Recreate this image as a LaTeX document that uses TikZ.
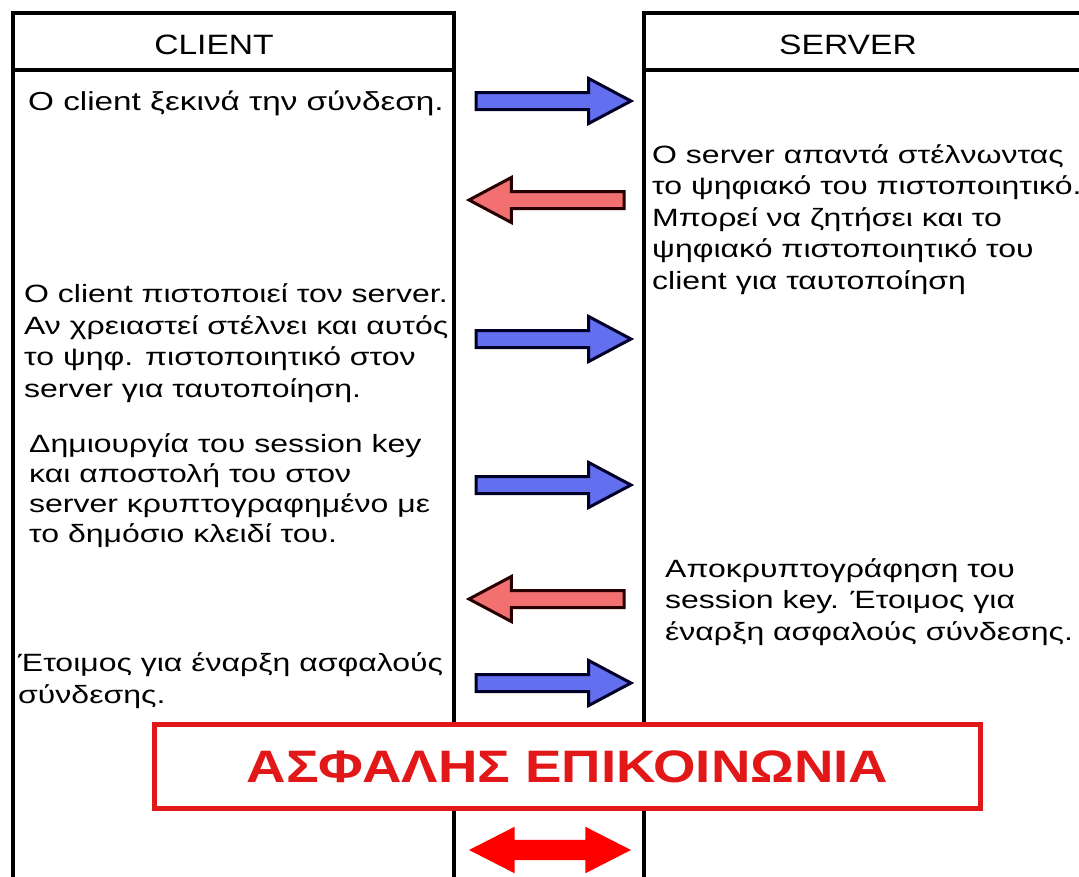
\documentclass[tikz,border=0pt]{standalone}
\usepackage{fontspec}
\setmainfont{Liberation Sans}[FakeStretch=1.2]
\newfontfamily\msgfont{Liberation Sans}[FakeStretch=1.28]
\usetikzlibrary{shapes.arrows}
\definecolor{msgblue}{RGB}{98,112,240}
\definecolor{msgred}{RGB}{242,112,112}
\definecolor{secred}{RGB}{226,24,24}
\begin{document}
\begin{tikzpicture}[x=1pt,y=-1pt,
	lifeline/.style={line width=4pt},
	head/.style={inner sep=0pt,font=\fontsize{28}{34}\selectfont},
	msg/.style={anchor=base west,align=left,inner sep=0pt,font=\msgfont\fontsize{25}{31.5}\selectfont},
	flow/.style={single arrow,shape border rotate=#1,anchor=tail,draw,line width=3pt,
		inner xsep=0pt,inner ysep=7pt,outer sep=0pt,minimum height=155pt,
		single arrow head extend=14pt,single arrow tip angle=56},
	fwd/.style={flow=0,fill=msgblue,draw=black!85!blue},
	back/.style={flow=180,fill=msgred,draw=black!85!red}]
	\useasboundingbox (0,0) rectangle (1079,876);
	\clip (0,0) rectangle (1079,876);
	% the two sides
	\draw[lifeline] (13,13) rectangle (454,900);
	\draw[lifeline] (13,70) -- (454,70);
	\draw[lifeline] (644,13) rectangle (1100,900);
	\draw[lifeline] (644,70) -- (1100,70);
	\node[head] (client) at (214,44.5) {CLIENT};
	\node[head] (server) at (848,44.5) {SERVER};
	% texts (base = last line)
	\node[msg,font=\msgfont\fontsize{26}{31.5}\selectfont] (c1) at (28,110) {O client ξεκινά την σύνδεση.};
	\node[msg] (s1) at (652,289) {O server απαντά στέλνωντας\\το ψηφιακό του πιστοποιητικό.\\Μπορεί να ζητήσει και το\\ψηφιακό πιστοποιητικό του\\client για ταυτοποίηση};
	\node[msg] (c2) at (24,397) {O client πιστοποιεί τον server.\\Αν χρειαστεί στέλνει και αυτός\\το ψηφ. πιστοποιητικό στον\\server για ταυτοποίηση.};
	\node[msg,font=\msgfont\fontsize{25}{30}\selectfont] (c3) at (29,542) {Δημιουργία του session key\\και αποστολή του στον\\server κρυπτογραφημένο με\\το δημόσιο κλειδί του.};
	\node[msg] (s2) at (665,640) {Αποκρυπτογράφηση του\\session key. Έτοιμος για\\έναρξη ασφαλούς σύνδεσης.};
	\node[msg] (c4) at (18,703) {Έτοιμος για έναρξη ασφαλούς\\σύνδεσης.};
	% messages
	\node[fwd] (m1) at (476,101) {};
	\node[back] (m2) at (624,200) {};
	\node[fwd] (m3) at (476,339) {};
	\node[fwd] (m4) at (476,485) {};
	\node[back] (m5) at (624,599) {};
	\node[fwd] (m6) at (476,683) {};
	% secure channel
	\node[draw=secred,line width=5pt,fill=white,minimum width=826pt,minimum height=84pt,
		inner sep=0pt,text=secred,font=\bfseries\fontsize{45.5}{50}\selectfont]
		(secure) at (567.5,766.5) {ΑΣΦΑΛΗΣ ΕΠΙΚΟΙΝΩΝΙΑ};
	\node[double arrow,fill=red,inner xsep=0pt,inner ysep=10pt,minimum height=162pt,
		double arrow head extend=13pt,double arrow tip angle=54] (link) at (550,850) {};
\end{tikzpicture}
\end{document}
